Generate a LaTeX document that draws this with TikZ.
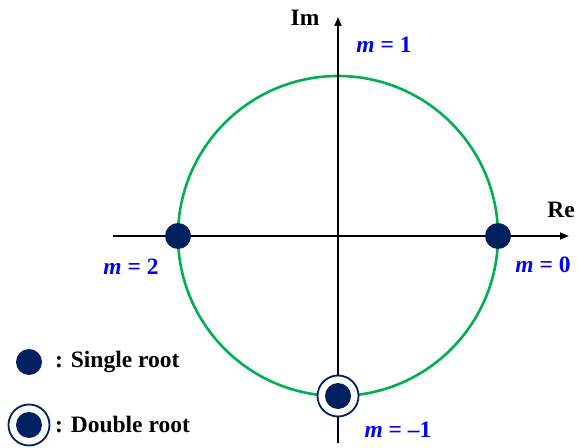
\documentclass[tikz,border=0pt]{standalone}
\usepackage{fontspec}
\setmainfont{Liberation Serif}
\usetikzlibrary{arrows.meta}
\definecolor{navy}{HTML}{002060}
\definecolor{cgreen}{HTML}{00B050}
\definecolor{mblue}{HTML}{0000FF}
\begin{document}
\begin{tikzpicture}[x=1pt,y=1pt,
  axis/.style={line width=1.8pt,-{Triangle[length=9pt,width=7pt]}},
  rootdot/.style={circle,fill=navy,minimum size=26pt,inner sep=0pt},
  ring/.style={circle,draw=navy,line width=1.8pt,minimum size=41pt,inner sep=0pt},
  lbl/.style={font=\fontsize{23.5}{24}\selectfont\bfseries,inner sep=0pt},
  mlbl/.style={font=\fontsize{23.5}{24}\selectfont\bfseries,text=mblue,inner sep=0pt}]
\useasboundingbox (0,0) rectangle (577,447);
\coordinate (O) at (338,211);
\coordinate (xs) at (113,211);
\coordinate (xe) at (569,211);
\coordinate (ys) at (338,4);
\coordinate (ye) at (338,430);
\draw[cgreen,line width=2.6pt] (O) circle (160);
\draw[axis] (xs) -- (xe);
\draw[axis] (ys) -- (ye);
\node[rootdot] (r0) at (498,211) {};
\node[rootdot] (r2) at (178,211) {};
\node[ring,fill=white] (rmring) at (338,51) {};
\node[rootdot] (rm) at (338,51) {};
\node[lbl] (im) at (305,429) {Im};
\node[lbl] (re) at (561,237) {Re};
\node[mlbl] (m1) at (384,402) {\textit{m} = 1};
\node[mlbl] (m0) at (543,182) {\textit{m} = 0};
\node[mlbl] (m2) at (131,180) {\textit{m} = 2};
\node[mlbl] (mm1) at (398,17) {\textit{m} = –1};
\node[rootdot] (l1) at (29,85) {};
\node[lbl,anchor=west] (t1) at (55,85) {: Single root};
\node[ring] (l2r) at (29,22) {};
\node[rootdot] (l2) at (29,22) {};
\node[lbl,anchor=west] (t2) at (55,22) {: Double root};
\end{tikzpicture}
\end{document}
